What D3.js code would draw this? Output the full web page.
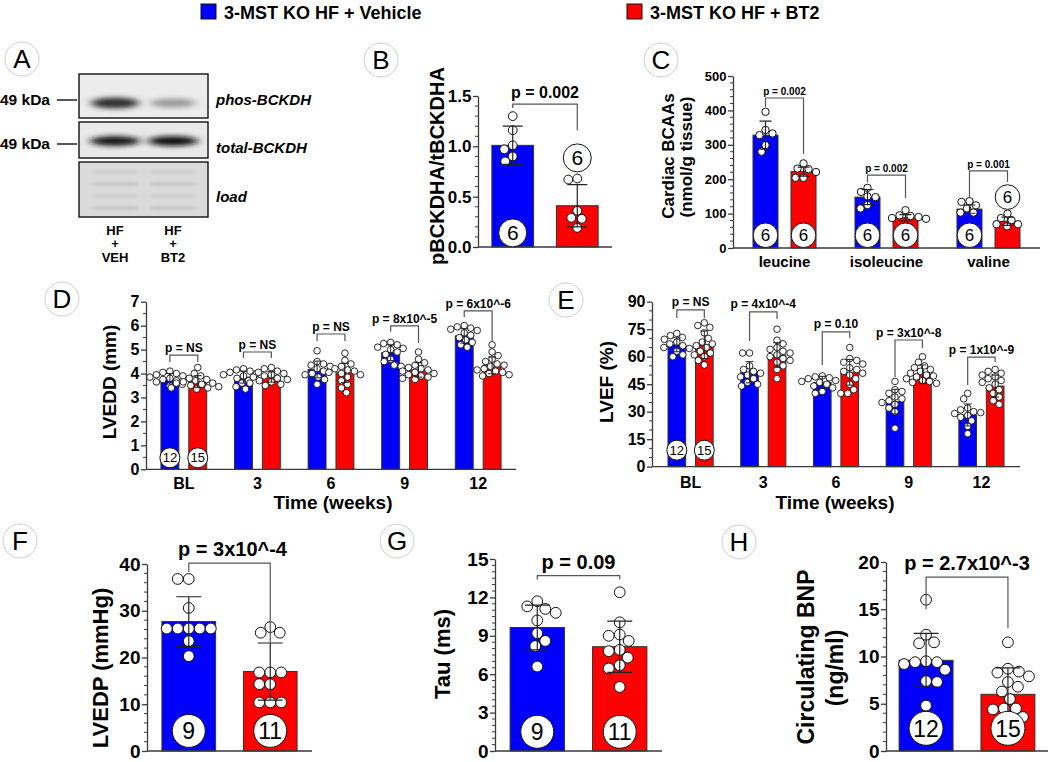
<!DOCTYPE html>
<html><head><meta charset="utf-8">
<script src="https://cdn.jsdelivr.net/npm/d3@7"></script>
<style>body{margin:0;background:#fff} svg{display:block}</style>
</head><body><svg id="fig" width="1050" height="762"></svg>
<script>
// ================= DATA =================
const seriesNames = ["3-MST KO HF + Vehicle", "3-MST KO HF + BT2"];
const seriesKeys = ["veh", "bt2"];

// Panel A (western blot)
const blotLabels = ["phos-BCKDH", "total-BCKDH", "load"];
const blotMarkers = ["49 kDa", "49 kDa"];
const laneLabels = [["HF", "+", "VEH"], ["HF", "+", "BT2"]];

// Panel B
const bMean = [1.01, 0.41];
const bSD = [0.19, 0.21];
const bN = ["6", "6"];
const bPtsVeh = [1.30, 1.16, 1.01, 0.97, 0.90, 0.85];
const bPtsBt2 = [0.68, 0.67, 0.36, 0.29, 0.28, 0.19];
const bTicks = [0, 0.5, 1.0, 1.5];
const bP = ["p = 0.002"];
const bBracket = [[1.42, 1.38, 1.16]];
const bNPos = [[0.14, 0.885]];

// Panel C
const cCategories = ["leucine", "isoleucine", "valine"];
const cMeanVeh = [328, 148, 113];
const cMeanBt2 = [222, 88, 78];
const cSDVeh = [41, 22, 12];
const cSDBt2 = [13, 9, 12];
const cPtsVeh = [[396, 343, 333, 328, 299, 280], [175, 163, 150, 148, 125, 115], [136, 134, 124, 115, 103, 103]];
const cPtsBt2 = [[246, 231, 229, 221, 204, 204], [110, 95, 93, 90, 87, 85], [100, 87, 81, 69, 69, 63]];
const cN = [["6", "6"], ["6", "6"], ["6", "6"]];
const cNPos = [[37, 37], [37, 37], [37, 148]];
const cTicks = [0, 100, 200, 300, 400, 500];
const cP = ["p = 0.002", "p = 0.002", "p = 0.001"];
const cBracket = [[436, 410, 273], [212, 192, 145], [224, 148, 192]];

// Panel D
const weeks = ["BL", "3", "6", "9", "12"];
const dMeanVeh = [3.78, 3.85, 4.17, 4.87, 5.57];
const dMeanBt2 = [3.66, 3.86, 4.03, 4.15, 4.34];
const dSDVeh = [0.22, 0.25, 0.35, 0.33, 0.30];
const dSDBt2 = [0.25, 0.22, 0.40, 0.30, 0.35];
const dPtsVeh = [
  [4.10, 4.05, 4.00, 3.95, 3.90, 3.85, 3.80, 3.75, 3.70, 3.65, 3.55, 3.50],
  [4.20, 4.15, 4.10, 4.05, 4.00, 3.95, 3.90, 3.80, 3.70, 3.60, 3.45, 3.35],
  [4.95, 4.50, 4.40, 4.35, 4.30, 4.20, 4.10, 4.00, 3.95, 3.85, 3.75, 3.55],
  [5.30, 5.25, 5.20, 5.10, 5.05, 5.00, 4.90, 4.80, 4.60, 4.50, 4.35, 4.30],
  [6.00, 5.95, 5.90, 5.85, 5.80, 5.70, 5.60, 5.50, 5.40, 5.30, 5.20, 5.10]
];
const dPtsBt2 = [
  [4.25, 4.00, 3.90, 3.80, 3.75, 3.70, 3.65, 3.60, 3.60, 3.55, 3.50, 3.45, 3.40, 3.40, 3.35],
  [4.25, 4.20, 4.10, 4.05, 4.00, 3.95, 3.90, 3.85, 3.80, 3.75, 3.70, 3.65, 3.60, 3.55, 3.50],
  [4.85, 4.55, 4.40, 4.30, 4.20, 4.15, 4.10, 4.05, 4.00, 3.95, 3.85, 3.70, 3.55, 3.40, 3.20],
  [4.90, 4.60, 4.45, 4.35, 4.25, 4.20, 4.15, 4.10, 4.05, 4.00, 3.95, 3.90, 3.85, 3.80, 3.75],
  [5.20, 4.90, 4.75, 4.60, 4.50, 4.40, 4.35, 4.30, 4.20, 4.15, 4.10, 4.05, 4.00, 3.95, 3.90]
];
const dN = [["12", "15"], null, null, null, null];
const dNPos = [[0.48, 0.48]];
const dTicks = [0, 1, 2, 3, 4, 5, 6, 7];
const dP = ["p = NS", "p = NS", "p = NS", "p = 8x10^-5", "p = 6x10^-6"];
const dBracket = [[4.77, 4.48, 4.48], [4.90, 4.65, 4.65], [5.65, 5.36, 5.36], [5.99, 5.74, 5.28], [6.62, 6.36, 5.32]];

// Panel E
const eMeanVeh = [66.5, 51.5, 46.0, 35.5, 28.2];
const eMeanBt2 = [66.5, 60.9, 51.5, 50.5, 44.0];
const eSDVeh = [3.8, 5.8, 3.3, 6.7, 6.0];
const eSDBt2 = [7.5, 6.7, 7.0, 5.0, 6.0];
const ePtsVeh = [
  [72.7, 71.5, 70.5, 69.5, 68, 67, 66, 65, 64.5, 63, 61, 60],
  [62, 62, 55, 53, 52, 51, 50, 49, 48, 46, 45, 44],
  [49.5, 49, 48.5, 48, 47, 46.5, 46, 45, 44, 43, 41, 40],
  [46.5, 42, 41, 40, 38, 37, 36, 35, 34, 32, 30, 21],
  [40, 37, 32, 31, 30, 29.5, 29, 28, 27, 25, 22, 18]
];
const ePtsBt2 = [
  [78.5, 77, 76, 73, 70, 68, 67, 66, 65, 63, 62, 61, 60, 58, 55.5],
  [75, 69, 67, 65, 64, 63, 62, 61, 60, 59, 58, 57, 55, 53, 48],
  [65, 59, 58, 57, 56, 54, 53, 52, 51, 50, 48, 45, 42, 40, 40],
  [60, 57, 55, 54, 53, 52, 51, 50, 49.5, 49, 48, 47, 46.5, 46, 45.5],
  [53, 52, 51, 50, 49, 48, 47, 46, 45, 43, 42, 40, 38, 36, 34]
];
const eN = [["12", "15"], null, null, null, null];
const eNPos = [[9, 9]];
const eTicks = [0, 15, 30, 45, 60, 75, 90];
const eP = ["p = NS", "p = 4x10^-4", "p = 0.10", "p = 3x10^-8", "p = 1x10^-9"];
const eBracket = [[85.5, 81.1, 81.1], [84.4, 68.6, 80.6], [73.5, 55.5, 70.2], [69.1, 48.9, 64.8], [59.8, 44.6, 57.1]];

// Panel F
const fMean = [27.7, 17.0];
const fSD = [5.3, 6.1];
const fN = ["9", "11"];
const fPtsVeh = [36.8, 36.8, 30.6, 26.2, 26.2, 26.2, 26.2, 26.2, 23.5, 20.3];
const fPtsBt2 = [26.5, 25.3, 25.3, 16.8, 16.8, 16.8, 14.3, 14.3, 10.4, 10.4, 10.4];
const fTicks = [0, 10, 20, 30, 40];
const fP = ["p = 3x10^-4"];
const fBracket = [[40.2, 38.3, 23.2]];
const fNPos = [[4.3, 4.3]];

// Panel G
const gMean = [9.65, 8.15];
const gSD = [1.75, 2.0];
const gN = ["9", "11"];
const gPtsVeh = [11.7, 11.3, 11.1, 10.8, 10.2, 9.2, 8.6, 8.2, 6.6];
const gPtsBt2 = [12.4, 10.05, 9.1, 9.0, 8.6, 7.9, 7.8, 7.3, 6.7, 6.45, 5.0];
const gTicks = [0, 3, 6, 9, 12, 15];
const gP = ["p = 0.09"];
const gBracket = [[13.7, 13.4, 13.4]];
const gNPos = [[1.5, 1.5]];

// Panel H
const hMean = [9.6, 6.0];
const hSD = [2.85, 2.8];
const hN = ["12", "15"];
const hPtsVeh = [16.0, 12.3, 11.5, 11.4, 9.5, 9.4, 9.4, 9.2, 8.6, 7.4, 7.3, 4.8];
const hPtsBt2 = [11.5, 8.7, 8.4, 8.3, 7.9, 7.3, 6.8, 6.3, 5.5, 4.5, 4.5, 4.4, 3.6, 2.9, 2.2];
const hTicks = [0, 5, 10, 15, 20];
const hP = ["p = 2.7x10^-3"];
const hBracket = [[18.4, 15.0, 13.0]];
const hNPos = [[2.4, 2.4]];

// ================= DRAWING =================
const FONT = '"Liberation Sans", Arial, Helvetica, sans-serif';
const COL = { veh: "#0000ff", bt2: "#ff0000" };
const AX = "#3a3a3a";
const svg = d3.select("#fig").attr("font-family", FONT);

function swarm(vals, y, r) {
  const d = 2 * r + 0.2;
  const items = vals.map(v => ({ v, py: y(v), dx: 0 }));
  const order = items.slice().sort((a, b) => a.py - b.py);
  const placed = [];
  order.forEach(it => {
    let found = false;
    for (let k = 0; k < 400 && !found; k++) {
      const s = k * 0.5;
      const cands = k === 0 ? [0] : (placed.length % 2 ? [-s, s] : [s, -s]);
      for (const dx of cands) {
        if (placed.every(p => Math.hypot(p.dx - dx, p.py - it.py) >= d)) { it.dx = dx; found = true; break; }
      }
    }
    placed.push(it);
  });
  return items;
}

function yAxis(g, y, x0, ticks, minorStep, fmt, fs) {
  const ga = g.append("g").attr("transform", `translate(${x0},0)`)
    .call(d3.axisLeft(y).tickValues(ticks).tickFormat(fmt).tickSize(5).tickSizeOuter(0).tickPadding(1.5));
  ga.select(".domain").attr("stroke", AX).attr("stroke-width", 1.3);
  ga.selectAll(".tick line").attr("stroke", AX).attr("stroke-width", 1.3);
  ga.selectAll(".tick text").attr("font-family", FONT).attr("font-weight", "bold")
    .attr("font-size", fs).attr("fill", "#000");
  const [d0, d1] = y.domain();
  const minors = d3.range(d0, d1 + 1e-9, minorStep).filter(v => !ticks.some(t => Math.abs(t - v) < 1e-6));
  ga.append("g").selectAll("line").data(minors).join("line")
    .attr("x1", -3).attr("x2", 0).attr("y1", d => y(d)).attr("y2", d => y(d))
    .attr("stroke", AX).attr("stroke-width", 1);
}

function barPanel(opt) {
  const g = svg.append("g");
  const x0 = d3.scaleBand().domain(opt.cats).range(opt.xr).paddingInner(opt.pi).paddingOuter(opt.po);
  const x1 = d3.scaleBand().domain(seriesKeys).range([0, x0.bandwidth()]).paddingInner(opt.pi2).paddingOuter(opt.po2);
  const y = d3.scaleLinear().domain(opt.yd).range(opt.yr);
  const cx = (c, s) => x0(c) + x1(s) + x1.bandwidth() / 2;
  const rows = [];
  opt.cats.forEach((c, ci) => seriesKeys.forEach((s, si) => rows.push({ c, ci, s, si, m: opt.means[si][ci], sd: opt.sds[si][ci], pts: opt.pts[si][ci] })));

  g.append("g").selectAll("rect").data(rows).join("rect")
    .attr("x", d => x0(d.c) + x1(d.s)).attr("width", x1.bandwidth())
    .attr("y", d => y(d.m)).attr("height", d => y(0) - y(d.m))
    .attr("fill", d => COL[d.s]).attr("stroke", "#333").attr("stroke-width", 1);

  rows.forEach(d => {
    const sw = swarm(d.pts, y, opt.r);
    g.append("g").selectAll("circle").data(sw).join("circle")
      .attr("cx", p => cx(d.c, d.s) + p.dx).attr("cy", p => p.py).attr("r", opt.r)
      .attr("fill", "#fff").attr("stroke", "#111").attr("stroke-width", opt.pw || 1);
  });

  const eg = g.append("g").attr("stroke", "#222").attr("stroke-width", opt.ew || 1.2).attr("fill", "none");
  rows.forEach(d => {
    const X = cx(d.c, d.s), hw = opt.capW / 2;
    eg.append("path").attr("d",
      `M${X},${y(d.m - d.sd)}V${y(d.m + d.sd)}M${X - hw},${y(d.m + d.sd)}H${X + hw}M${X - hw},${y(d.m - d.sd)}H${X + hw}`);
  });

  yAxis(g, y, opt.xr[0], opt.ticks, opt.minor, opt.fmt, opt.tickFs);
  g.append("line").attr("x1", opt.xr[0]).attr("x2", opt.xr[1]).attr("y1", y(0)).attr("y2", y(0))
    .attr("stroke", AX).attr("stroke-width", 1.3);
  if (opt.catFs) {
    g.append("g").selectAll("text").data(opt.cats).join("text")
      .attr("x", c => x0(c) + x0.bandwidth() / 2).attr("y", y(0) + opt.catDy)
      .attr("text-anchor", "middle").attr("font-weight", "bold").attr("font-size", opt.catFs).text(c => c);
  }

  opt.cats.forEach((c, ci) => {
    const b = opt.brackets[ci]; if (!b) return;
    const L = cx(c, "veh"), R = cx(c, "bt2");
    g.append("path").attr("d", `M${L},${y(b[1])}V${y(b[0])}H${R}V${y(b[2])}`)
      .attr("fill", "none").attr("stroke", "#555").attr("stroke-width", 1.2);
    g.append("text").attr("x", (L + R) / 2 + (opt.pDx || 0)).attr("y", y(b[0]) - opt.pGap)
      .attr("text-anchor", "middle").attr("font-weight", "bold").attr("font-size", opt.pFs).text(opt.pText[ci]);
  });

  opt.cats.forEach((c, ci) => {
    const n = opt.n[ci]; if (!n) return;
    seriesKeys.forEach((s, si) => {
      const Y = y(opt.nPos[ci][si]);
      g.append("circle").attr("cx", cx(c, s)).attr("cy", Y).attr("r", opt.nR)
        .attr("fill", "#fff").attr("stroke", "#111").attr("stroke-width", 1);
      g.append("text").attr("x", cx(c, s)).attr("y", Y).attr("dy", "0.36em")
        .attr("text-anchor", "middle").attr("font-size", opt.nFs).text(n[si]);
    });
  });
  return { g, x0, y };
}

function ylabel(lines) {
  lines.forEach(l => {
    svg.append("text").attr("transform", `translate(${l.x},${l.y}) rotate(-90)`)
      .attr("text-anchor", "middle").attr("dy", "0.35em").attr("font-weight", "bold")
      .attr("font-size", l.fs).text(l.t);
  });
}

function panelLetter(t, x, y) {
  svg.append("circle").attr("cx", x).attr("cy", y).attr("r", 17).attr("fill", "#fff")
    .attr("stroke", "#cfcfcf").attr("stroke-width", 1);
  svg.append("text").attr("x", x).attr("y", y).attr("dy", "0.36em").attr("text-anchor", "middle")
    .attr("font-size", 26).text(t);
}

// ---------- Legend ----------
const legendX = [201, 627];
seriesKeys.forEach((s, i) => {
  svg.append("rect").attr("x", legendX[i]).attr("y", 4).attr("width", 15).attr("height", 15)
    .attr("fill", COL[s]).attr("stroke", "#111").attr("stroke-width", 1);
  svg.append("text").attr("x", legendX[i] + 23).attr("y", 18.5).attr("font-weight", "bold")
    .attr("font-size", 18).text(seriesNames[i]);
});

// ---------- Panel A: blot ----------
const defs = svg.append("defs");
defs.append("filter").attr("id", "blur3").attr("x", "-50%").attr("y", "-100%").attr("width", "200%").attr("height", "300%")
  .append("feGaussianBlur").attr("stdDeviation", "5 2.6");
defs.append("filter").attr("id", "blur1").append("feGaussianBlur").attr("stdDeviation", "2 1");
const boxes = [{ y: 74, h: 44, bg: "#ececec" }, { y: 122, h: 36, bg: "#e9e9e9" }, { y: 162, h: 55, bg: "#dadada" }];
const lanes = d3.scalePoint().domain([0, 1]).range([115, 173]);
const gA = svg.append("g");
boxes.forEach((b, i) => {
  const clip = defs.append("clipPath").attr("id", "clipbox" + i);
  clip.append("rect").attr("x", 79).attr("y", b.y).attr("width", 129).attr("height", b.h);
  const gb = gA.append("g").attr("clip-path", `url(#clipbox${i})`);
  gb.append("rect").attr("x", 79).attr("y", b.y).attr("width", 129).attr("height", b.h).attr("fill", b.bg);
  if (i === 0) {
    gb.append("ellipse").attr("cx", lanes(0)).attr("cy", 103).attr("rx", 24).attr("ry", 5.5).attr("fill", "#2e2e2e").attr("filter", "url(#blur3)");
    gb.append("ellipse").attr("cx", lanes(1)).attr("cy", 103).attr("rx", 23).attr("ry", 4.5).attr("fill", "#9a9a9a").attr("filter", "url(#blur3)");
  } else if (i === 1) {
    gb.append("ellipse").attr("cx", lanes(0)).attr("cy", 141).attr("rx", 25).attr("ry", 5).attr("fill", "#151515").attr("filter", "url(#blur3)");
    gb.append("ellipse").attr("cx", lanes(1)).attr("cy", 141).attr("rx", 25).attr("ry", 5).attr("fill", "#101010").attr("filter", "url(#blur3)");
  } else {
    [172, 184, 196, 208].forEach((yy, k) => lanes.domain().forEach(l => {
      gb.append("rect").attr("x", lanes(l) - 22).attr("y", yy - 2).attr("width", 44).attr("height", 4)
        .attr("fill", k % 2 ? "#c6c6c6" : "#cecece").attr("filter", "url(#blur1)");
    }));
  }
  gA.append("rect").attr("x", 79).attr("y", b.y).attr("width", 129).attr("height", b.h)
    .attr("fill", "none").attr("stroke", "#111").attr("stroke-width", 1.4);
});
[100, 144].forEach((yy, i) => {
  gA.append("text").attr("x", 0).attr("y", yy).attr("dy", "0.35em").attr("font-weight", "bold").attr("font-size", 15.5).text(blotMarkers[i]);
  gA.append("line").attr("x1", 57).attr("x2", 77).attr("y1", yy).attr("y2", yy).attr("stroke", "#111").attr("stroke-width", 1.4);
});
[100, 148, 197].forEach((yy, i) => {
  gA.append("text").attr("x", 216).attr("y", yy).attr("dy", "0.35em").attr("font-weight", "bold")
    .attr("font-style", "italic").attr("font-size", 15).text(blotLabels[i]);
});
laneLabels.forEach((ls, li) => ls.forEach((t, k) => {
  gA.append("text").attr("x", lanes(li)).attr("y", 230 + k * 13.5).attr("dy", "0.35em").attr("text-anchor", "middle")
    .attr("font-weight", "bold").attr("font-size", 13).text(t);
}));

// ---------- Panel B ----------
barPanel({
  cats: ["all"], xr: [478, 612], pi: 0, po: 0, pi2: 0.354, po2: 0.215,
  yd: [0, 1.5], yr: [247, 96], ticks: bTicks, minor: 0.1, fmt: d3.format(".1f"), tickFs: 17,
  means: [[bMean[0]], [bMean[1]]], sds: [[bSD[0]], [bSD[1]]], pts: [[bPtsVeh], [bPtsBt2]],
  r: 4.4, capW: 20, n: [bN], nPos: bNPos, nR: 14, nFs: 21,
  brackets: bBracket, pText: bP, pFs: 16, pGap: 6
});
ylabel([{ t: "pBCKDHA/tBCKDHA", x: 437, y: 166, fs: 20 }]);

// ---------- Panel C ----------
barPanel({
  cats: cCategories, xr: [733, 1040], pi: 0.382, po: 0.196, pi2: 0.342, po2: 0,
  yd: [0, 500], yr: [248, 76], ticks: cTicks, minor: 20, fmt: d3.format("d"), tickFs: 13,
  means: [cMeanVeh, cMeanBt2], sds: [cSDVeh, cSDBt2], pts: [cPtsVeh, cPtsBt2],
  r: 3.7, capW: 12, n: cN, nPos: cNPos, nR: 12.3, nFs: 17,
  brackets: cBracket, pText: cP, pFs: 10, pGap: 3, catFs: 15, catDy: 19
});
ylabel([{ t: "Cardiac BCAAs", x: 668, y: 156, fs: 17 }, { t: "(nmol/g tissue)", x: 686, y: 157, fs: 17 }]);

// ---------- Panel D ----------
barPanel({
  cats: weeks, xr: [146, 516], pi: 0.378, po: 0.203, pi2: 0.357, po2: 0,
  yd: [0, 7], yr: [469.3, 301.7], ticks: dTicks, minor: 0.5, fmt: d3.format("d"), tickFs: 16,
  means: [dMeanVeh, dMeanBt2], sds: [dSDVeh, dSDBt2], pts: [dPtsVeh, dPtsBt2],
  r: 3.3, capW: 8, pw: 0.9, ew: 1, n: dN, nPos: dNPos, nR: 10, nFs: 13,
  brackets: dBracket, pText: dP, pFs: 12, pGap: 3, catFs: 16, catDy: 20
});
ylabel([{ t: "LVEDD (mm)", x: 109, y: 382, fs: 19 }]);
svg.append("text").attr("x", 333).attr("y", 509).attr("text-anchor", "middle").attr("font-weight", "bold").attr("font-size", 19).text("Time (weeks)");

// ---------- Panel E ----------
barPanel({
  cats: weeks, xr: [652, 1020], pi: 0.379, po: 0.22, pi2: 0.357, po2: 0,
  yd: [0, 90], yr: [466.7, 301.7], ticks: eTicks, minor: 5, fmt: d3.format("d"), tickFs: 16,
  means: [eMeanVeh, eMeanBt2], sds: [eSDVeh, eSDBt2], pts: [ePtsVeh, ePtsBt2],
  r: 3.3, capW: 8, pw: 0.9, ew: 1, n: eN, nPos: eNPos, nR: 10, nFs: 13,
  brackets: eBracket, pText: eP, pFs: 12, pGap: 3.5, catFs: 16, catDy: 21
});
ylabel([{ t: "LVEF (%)", x: 606, y: 382, fs: 19 }]);
svg.append("text").attr("x", 835).attr("y", 509).attr("text-anchor", "middle").attr("font-weight", "bold").attr("font-size", 19).text("Time (weeks)");

// ---------- Panel F ----------
barPanel({
  cats: ["all"], xr: [147, 312], pi: 0, po: 0, pi2: 0.341, po2: 0.183,
  yd: [0, 40], yr: [751, 564], ticks: fTicks, minor: 2, fmt: d3.format("d"), tickFs: 19,
  means: [[fMean[0]], [fMean[1]]], sds: [[fSD[0]], [fSD[1]]], pts: [[fPtsVeh], [fPtsBt2]],
  r: 5.4, capW: 25, n: [fN], nPos: fNPos, nR: 16.5, nFs: 23,
  brackets: fBracket, pText: fP, pFs: 20, pGap: 7, pDx: 3
});
ylabel([{ t: "LVEDP (mmHg)", x: 100, y: 668, fs: 22 }]);

// ---------- Panel G ----------
barPanel({
  cats: ["all"], xr: [495, 662], pi: 0, po: 0, pi2: 0.341, po2: 0.183,
  yd: [0, 15], yr: [751, 559], ticks: gTicks, minor: 0.5, fmt: d3.format("d"), tickFs: 19,
  means: [[gMean[0]], [gMean[1]]], sds: [[gSD[0]], [gSD[1]]], pts: [[gPtsVeh], [gPtsBt2]],
  r: 5.4, capW: 25, n: [gN], nPos: gNPos, nR: 16.5, nFs: 23,
  brackets: gBracket, pText: gP, pFs: 20, pGap: 7
});
ylabel([{ t: "Tau (ms)", x: 442, y: 654, fs: 22 }]);

// ---------- Panel H ----------
barPanel({
  cats: ["all"], xr: [886, 1048], pi: 0, po: 0, pi2: 0.341, po2: 0.16,
  yd: [0, 20], yr: [751, 562], ticks: hTicks, minor: 1, fmt: d3.format("d"), tickFs: 19,
  means: [[hMean[0]], [hMean[1]]], sds: [[hSD[0]], [hSD[1]]], pts: [[hPtsVeh], [hPtsBt2]],
  r: 5.4, capW: 25, n: [hN], nPos: hNPos, nR: 17, nFs: 23,
  brackets: hBracket, pText: hP, pFs: 20, pGap: 7
});
ylabel([{ t: "Circulating BNP", x: 806, y: 657, fs: 23 }, { t: "(ng/ml)", x: 835, y: 668, fs: 23 }]);

// ---------- Panel letters ----------
[["A", 22, 59], ["B", 381, 60], ["C", 661, 60], ["D", 62, 299], ["E", 566, 300],
 ["F", 20, 541], ["G", 397, 541], ["H", 739, 542]].forEach(d => panelLetter(...d));
</script></body></html>
